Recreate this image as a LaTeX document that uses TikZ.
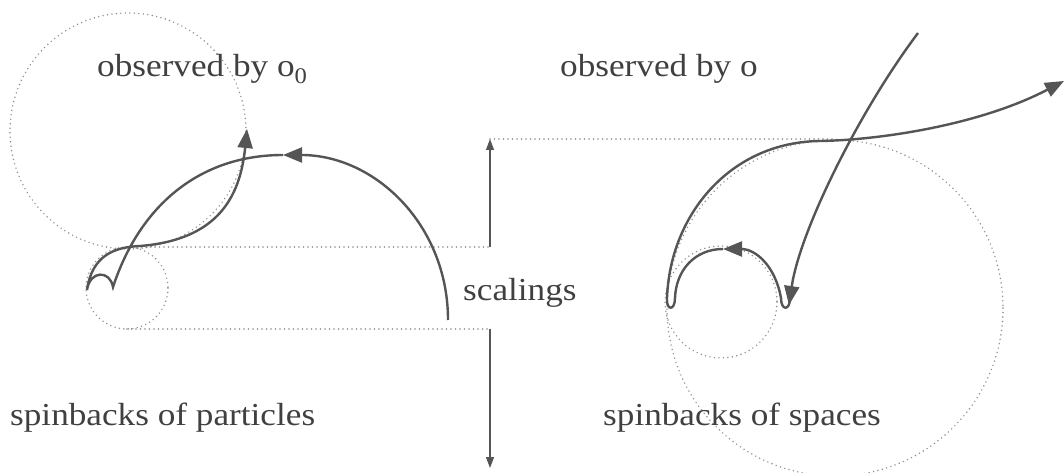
\documentclass[tikz,border=0pt]{standalone}
\usepackage{fontspec}
\setmainfont{Liberation Serif}
\usepackage{graphicx}
\usetikzlibrary{arrows.meta}
\definecolor{inkgray}{HTML}{555555}
\definecolor{dotgray}{HTML}{8E8E8E}
\definecolor{textgray}{HTML}{404040}
\newcommand{\wide}[1]{\scalebox{1.1}[1]{#1}}
\tikzset{
  orbit/.style={draw=inkgray, line width=2.4pt},
  spin/.style={orbit, -{Triangle[length=19pt,width=15pt]}},
  guide/.style={draw=dotgray, line width=1.6pt, line cap=round, dash pattern=on 0pt off 4.5pt},
  scaler/.style={draw=inkgray, line width=1.1pt, -{Triangle[length=11pt,width=8pt]}},
  caption/.style={inner sep=0pt, anchor=base west, text=textgray, font=\fontsize{32}{38}\selectfont}
}
\begin{document}
\begin{tikzpicture}[x=1pt, y=-1pt]
  \useasboundingbox[fill=white] (0,0) rectangle (1064,473);
  \clip (0,0) rectangle (1064,473);
  \def\xS{490} \def\yHi{139} \def\yA{247} \def\yB{329} \def\yLo{468}
  % dotted guides
  \draw[guide] (128,131) circle[radius=118];
  \draw[guide] (127,288) circle[radius=41];
  \draw[guide] (835,308) circle[radius=168];
  \draw[guide] (721,302) circle[radius=56];
  \draw[guide] (128,\yA) -- (\xS,\yA);
  \draw[guide] (127,\yB) -- (\xS,\yB);
  \draw[guide] (\xS,\yHi) -- (835,\yHi);
  \coordinate (sA) at (\xS,\yA);
  \coordinate (sHi) at (\xS,\yHi);
  \coordinate (sB) at (\xS,\yB);
  \coordinate (sLo) at (\xS,\yLo);
  \draw[scaler] (sA) -- (sHi);
  \draw[scaler] (sB) -- (sLo);
  % particles
  \coordinate (pStart) at (448,320);
  \coordinate (pTop) at (283,155);
  \coordinate (pEnd) at (247,129);
  \draw[spin] (pStart) .. controls (448,225) and (375,155) .. (pTop);
  \draw[spin] (pTop) .. controls (200,155) and (140,205) .. (113,287)
    .. controls (110,270) and (90,270) .. (87,290)
    .. controls (92,255) and (115,247) .. (140,246)
    .. controls (215,240) and (240,200) .. (pEnd);
  % spaces
  \coordinate (sStart) at (918,33);
  \coordinate (sDip) at (789,305);
  \coordinate (sTop) at (723,249);
  \coordinate (sEnd) at (1064,81);
  \draw[spin] (sStart) .. controls (860,110) and (800,230) .. (sDip);
  \draw[spin] (790,298) .. controls (790,311) and (781,311) .. (781,298)
    .. controls (775,265) and (755,249) .. (sTop);
  \draw[spin] (sTop) .. controls (695,249) and (676,270) .. (675,298)
    .. controls (675,311) and (666,311) .. (667,298)
    .. controls (670,215) and (730,142) .. (820,141)
    .. controls (880,140) and (980,125) .. (sEnd);
  % labels
  \node[caption] (obsZero) at (97,77) {\wide{observed by o\textsubscript{0}}};
  \node[caption] (obsO) at (560,77) {\wide{observed by o}};
  \node[caption] (scal) at (463,300) {\wide{scalings}};
  \node[caption] (spPart) at (10,425) {\wide{spinbacks of particles}};
  \node[caption] (spSpace) at (603,425) {\wide{spinbacks of spaces}};
\end{tikzpicture}
\end{document}
